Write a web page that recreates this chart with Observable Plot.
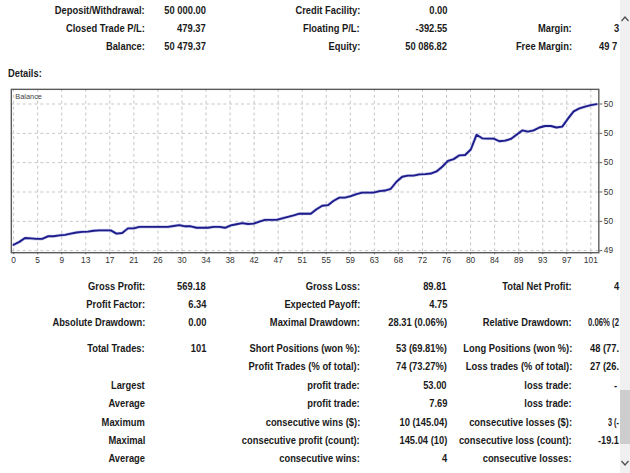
<!DOCTYPE html>
<html>
<head>
<meta charset="utf-8">
<script src="https://cdn.jsdelivr.net/npm/d3@7"></script>
<script src="https://cdn.jsdelivr.net/npm/@observablehq/plot@0.6"></script>
<style>
  html, body { margin: 0; padding: 0; background: #fff; }
  body { width: 630px; height: 473px; overflow: hidden; position: relative; }
  #page { position: absolute; left: 0; top: 0; width: 620px; height: 473px; overflow: hidden; }
  .t { position: absolute; white-space: nowrap; font: bold 11px "Liberation Sans", Arial, sans-serif; color: #1a1a1a; line-height: 13px; }
  #chart { position: absolute; left: 0; top: 80px; }
  #sb { position: absolute; left: 620px; top: 0; width: 10px; height: 473px; background: #f0f0f0; }
  #thumb { position: absolute; left: 620px; top: 390px; width: 10px; height: 54px; background: #cdcdcd; }
  .arr { position: absolute; left: 620px; width: 10px; height: 10px; }
</style>
</head>
<body>
<div id="page"><div id="chart"></div></div>
<div id="sb"></div>
<div id="thumb"></div>
<svg class="arr" style="top:14px" width="10" height="10" viewBox="0 0 10 10"><polyline points="1.5,7 5,3 8.5,7" fill="none" stroke="#505050" stroke-width="1.3"/></svg>
<svg class="arr" style="top:458px" width="10" height="10" viewBox="0 0 10 10"><polyline points="1.5,3 5,7 8.5,3" fill="none" stroke="#505050" stroke-width="1.3"/></svg>
<script>
// ---------- Summary (top) ----------
const topRows = [10, 28, 46];
const topLabels1 = ["Deposit/Withdrawal:", "Closed Trade P/L:", "Balance:"];
const topValues1 = ["50 000.00", "479.37", "50 479.37"];
const topLabels2 = ["Credit Facility:", "Floating P/L:", "Equity:"];
const topValues2 = ["0.00", "-392.55", "50 086.82"];
const topLabels3 = ["", "Margin:", "Free Margin:"];
const topValues3 = ["", "3", "49 7"];
const topValues3X = [0, 614, 599];

// ---------- Details (bottom) ----------
const botRows = [286, 304, 322, 348, 366, 385, 403, 422, 440, 458];
const botLabels1 = ["Gross Profit:", "Profit Factor:", "Absolute Drawdown:", "Total Trades:", "", "Largest", "Average", "Maximum", "Maximal", "Average"];
const botValues1 = ["569.18", "6.34", "0.00", "101", "", "", "", "", "", ""];
const botLabels2 = ["Gross Loss:", "Expected Payoff:", "Maximal Drawdown:", "Short Positions (won %):", "Profit Trades (% of total):", "profit trade:", "profit trade:", "consecutive wins ($):", "consecutive profit (count):", "consecutive wins:"];
const botValues2 = ["89.81", "4.75", "28.31 (0.06%)", "53 (69.81%)", "74 (73.27%)", "53.00", "7.69", "10 (145.04)", "145.04 (10)", "4"];
const botLabels3 = ["Total Net Profit:", "", "Relative Drawdown:", "Long Positions (won %):", "Loss trades (% of total):", "loss trade:", "loss trade:", "consecutive losses ($):", "consecutive loss (count):", "consecutive losses:"];
const botValues3 = ["4", "", "0.06% (2", "48 (77.", "27 (26.", "-", "", "3 (-", "-19.1", ""];
const botValues3X = [614, 0, 592, 594, 594, 614, 0, 612, 602, 0];

// ---------- Balance chart ----------
const balance = [
  50000, 50010, 50023, 50022, 50020, 50020, 50029, 50029, 50032, 50034,
  50038, 50042, 50044, 50045, 50048, 50049, 50049, 50049, 50038, 50040,
  50056, 50056, 50061, 50061, 50061, 50061, 50061, 50061, 50064, 50067,
  50063, 50063, 50058, 50058, 50058, 50061, 50061, 50058, 50066, 50070,
  50074, 50071, 50072, 50079, 50085, 50085, 50085, 50090, 50095, 50100,
  50106, 50106, 50106, 50121, 50133, 50135, 50150, 50161, 50161, 50166,
  50173, 50178, 50178, 50178, 50183, 50185, 50191, 50215, 50232, 50236,
  50236, 50240, 50241, 50243, 50250, 50266, 50286, 50292, 50305, 50306,
  50325, 50375, 50363, 50362, 50362, 50353, 50355, 50361, 50375, 50390,
  50386, 50390, 50400, 50405, 50405, 50400, 50403, 50430, 50455, 50465,
  50471, 50476, 50479.37
];
const xTickLabels = ["0","5","9","13","17","21","26","30","34","38","42","47","51","55","59","63","68","72","76","80","84","89","93","97","101"];
const yTicks = [49980, 50080, 50180, 50280, 50380, 50480];
const yTickLabels = ["49", "50", "50", "50", "50", "50"];

// ---------- render text ----------
const page = document.getElementById("page");
const SX = 0.85;
function putL(text, x, y) {
  if (!text) return;
  const d = document.createElement("div");
  d.className = "t";
  d.textContent = text;
  d.style.top = (y - 6.5) + "px";
  page.appendChild(d);
  // shrink to stay inside the visible area (edge at 620)
  const w = d.getBoundingClientRect().width;
  const limit = 619;
  let sx = SX, left = x;
  if (left + w * sx > limit) {
    left = Math.max(x - 4, limit - w * sx);
    if (left + w * sx > limit) sx = (limit - left) / w;
  }
  d.style.left = left + "px";
  d.style.transform = `scaleX(${sx})`;
  d.style.transformOrigin = "left center";
}
function putR(text, x, y) {
  if (!text) return;
  const d = document.createElement("div");
  d.className = "t";
  d.textContent = text;
  d.style.top = (y - 6.5) + "px";
  d.style.right = (620 - x) + "px";
  d.style.transform = `scaleX(${SX})`;
  d.style.transformOrigin = "right center";
  page.appendChild(d);
}
topRows.forEach((y, i) => {
  putR(topLabels1[i], 145, y);
  putR(topValues1[i], 206, y);
  putR(topLabels2[i], 360, y);
  putR(topValues2[i], 447, y);
  putR(topLabels3[i], 572, y);
  putL(topValues3[i], topValues3X[i], y);
});
putL("Details:", 8, 73);
botRows.forEach((y, i) => {
  putR(botLabels1[i], 145, y);
  putR(botValues1[i], 206, y);
  putR(botLabels2[i], 360, y);
  putR(botValues2[i], 447, y);
  putR(botLabels3[i], 572, y);
  putL(botValues3[i], botValues3X[i], y);
});

// ---------- chart ----------
const nT = xTickLabels.length - 1;
const xTickPos = xTickLabels.map((_, i) => i * 101 / nT);
const data = balance.map((b, i) => ({i, b}));

const chart = Plot.plot({
  width: 630,
  height: 195,
  marginLeft: 11,
  marginRight: 22,
  marginTop: 9,
  marginBottom: 20,
  x: {domain: [-0.4, 102.4], axis: null},
  y: {domain: [49973, 50530], axis: null},
  style: {background: "transparent", fontFamily: "Liberation Sans, Arial, sans-serif", fontSize: "8.5px", color: "#333", overflow: "visible"},
  marks: [
    Plot.ruleY(yTicks, {stroke: "#c4c4c4", strokeDasharray: "3,3", strokeWidth: 1}),
    Plot.ruleX(xTickPos, {stroke: "#c4c4c4", strokeDasharray: "3,3", strokeWidth: 1}),
    Plot.line(data, {x: "i", y: "b", stroke: "#8c8cd8", strokeWidth: 3.2, strokeOpacity: 0.45}),
    Plot.line(data, {x: "i", y: "b", stroke: "#1c1c8a", strokeWidth: 1.9}),
    Plot.frame({stroke: "#5a5a5a", strokeWidth: 1.4}),
    Plot.axisY(yTicks, {anchor: "right", label: null, tickSize: 3, tickPadding: 2, stroke: "#5a5a5a",
      tickFormat: d => yTickLabels[yTicks.indexOf(d)], fill: "#333"}),
    Plot.axisX(xTickPos, {anchor: "bottom", label: null, tickSize: 2, tickPadding: 2, stroke: "#5a5a5a",
      tickFormat: d => xTickLabels[xTickPos.indexOf(d)], fill: "#333"}),
    Plot.text(["Balance"], {frameAnchor: "top-left", dx: 4, dy: 4, text: d => d, fontSize: 7.5, fill: "#444"})
  ]
});
document.getElementById("chart").appendChild(chart);
</script>
</body>
</html>
